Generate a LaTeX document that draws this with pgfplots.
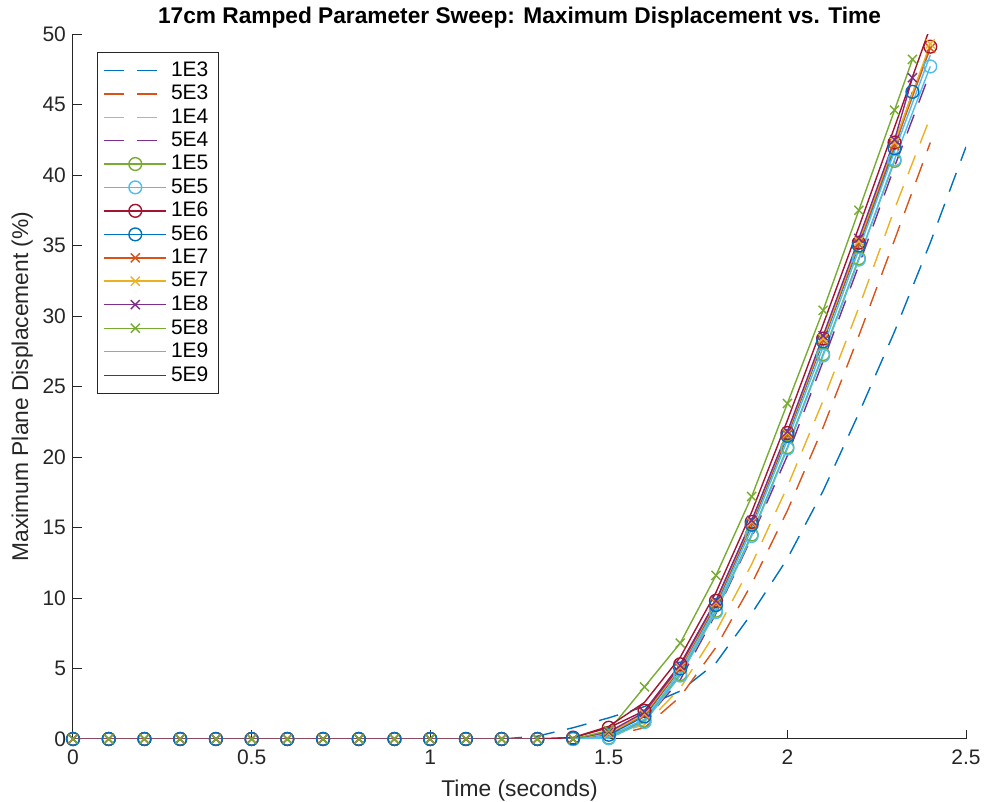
\documentclass[border=0pt]{standalone}
\usepackage{fontspec}
\setmainfont{Liberation Sans}
\usepackage{pgfplots}
\pgfplotsset{compat=1.18}
\definecolor{c1}{rgb}{0,0.447,0.741}
\definecolor{c2}{rgb}{0.850,0.325,0.098}
\definecolor{c3}{rgb}{0.929,0.694,0.125}
\definecolor{c4}{rgb}{0.494,0.184,0.556}
\definecolor{c5}{rgb}{0.466,0.674,0.188}
\definecolor{c6}{rgb}{0.301,0.745,0.933}
\definecolor{c7}{rgb}{0.635,0.078,0.184}
\definecolor{axgray}{rgb}{0.15,0.15,0.15}
\begin{document}
\begin{tikzpicture}
\begin{axis}[
  name=ax,
  width=446.5pt, height=352.5pt, scale only axis,
  xmin=0, xmax=2.5, ymin=0, ymax=50,
  axis x line*=bottom, axis y line*=left,
  axis line style={axgray, line width=0.5pt},
  tick align=inside, major tick length=4.5pt,
  tick style={axgray, line width=0.5pt},
  xtick={0,0.5,1,1.5,2,2.5}, ytick={0,5,10,15,20,25,30,35,40,45,50},
  /pgf/number format/assume math mode=true,
  ticklabel style={font=\fontsize{10.5}{12}\selectfont, text=axgray},
  xticklabel style={yshift=-2pt},
  xlabel={Time (seconds)}, ylabel={Maximum Plane Displacement (\%)},
  label style={font=\fontsize{11.4}{13}\selectfont, text=axgray},
  xlabel style={yshift=-0.5pt},
  ylabel style={yshift=-2pt},
  title={\textbf{17cm Ramped Parameter Sweep: Maximum Displacement vs. Time}},
  title style={font=\fontsize{11.35}{13}\selectfont, yshift=-6.5pt},
  legend cell align=left,
  legend style={at={(0.027,0.9745)}, anchor=north west, draw=axgray, line width=0.5pt,
    font=\fontsize{10.5}{12}\selectfont, row sep=-1.05pt, inner xsep=3pt, inner ysep=2.5pt},
  legend image code/.code={\draw[mark repeat=2,mark phase=2] plot coordinates {(0pt,0pt) (15.5pt,0pt) (31pt,0pt)};},
  every axis plot/.append style={line width=0.7pt},
  mark size=3.2pt,
]
% 1E3
\addplot[c1, dash pattern=on 10pt off 6.5pt] coordinates {(0,0)(0.1,0)(0.2,0)(0.3,0)(0.4,0)(0.5,0)(0.6,0)(0.7,0)(0.8,0)(0.9,0)(1.0,0)(1.1,0)(1.2,0)(1.3,0.2)(1.4,0.8)(1.5,1.5)(1.6,2.3)(1.7,3.4)(1.8,5.4)(1.9,8.9)(2.0,12.8)(2.1,17.6)(2.2,23.1)(2.3,28.9)(2.4,35.2)(2.5,42.0)};
\addlegendentry{1E3}
% 5E3
\addplot[c2, dash pattern=on 10pt off 6.5pt] coordinates {(0,0)(0.1,0)(0.2,0)(0.3,0)(0.4,0)(0.5,0)(0.6,0)(0.7,0)(0.8,0)(0.9,0)(1.0,0)(1.1,0)(1.2,0)(1.3,0)(1.4,0)(1.5,0.2)(1.6,0.8)(1.7,3.0)(1.8,6.5)(1.9,11.0)(2.0,16.2)(2.1,22.1)(2.2,28.6)(2.3,35.4)(2.4,42.3)};
\addlegendentry{5E3}
% 1E4
\addplot[c3, dash pattern=on 10pt off 6.5pt] coordinates {(0,0)(0.1,0)(0.2,0)(0.3,0)(0.4,0)(0.5,0)(0.6,0)(0.7,0)(0.8,0)(0.9,0)(1.0,0)(1.1,0)(1.2,0)(1.3,0)(1.4,0)(1.5,0.3)(1.6,1.0)(1.7,3.6)(1.8,7.6)(1.9,12.4)(2.0,17.9)(2.1,24.0)(2.2,30.6)(2.3,37.6)(2.4,44.1)};
\addlegendentry{1E4}
% 5E4
\addplot[c4, dash pattern=on 10pt off 6.5pt] coordinates {(0,0)(0.1,0)(0.2,0)(0.3,0)(0.4,0)(0.5,0)(0.6,0)(0.7,0)(0.8,0)(0.9,0)(1.0,0)(1.1,0)(1.2,0)(1.3,0)(1.4,0)(1.5,0.3)(1.6,1.3)(1.7,4.2)(1.8,8.9)(1.9,14.3)(2.0,20.1)(2.1,26.8)(2.2,33.6)(2.3,40.6)(2.4,47.3)};
\addlegendentry{5E4}
% 1E5
\addplot[c5, mark=o] coordinates {(0,0)(0.1,0)(0.2,0)(0.3,0)(0.4,0)(0.5,0)(0.6,0)(0.7,0)(0.8,0)(0.9,0)(1.0,0)(1.1,0)(1.2,0)(1.3,0)(1.4,0)(1.5,0.1)(1.6,1.3)(1.7,4.6)(1.8,9.1)(1.9,14.5)(2.0,20.7)(2.1,27.3)(2.2,34.1)(2.3,41.0)};
\addlegendentry{1E5}
% 5E5
\addplot[c6, mark=o] coordinates {(0,0)(0.1,0)(0.2,0)(0.3,0)(0.4,0)(0.5,0)(0.6,0)(0.7,0)(0.8,0)(0.9,0)(1.0,0)(1.1,0)(1.2,0)(1.3,0)(1.4,0)(1.5,0.05)(1.6,1.2)(1.7,4.5)(1.8,9.0)(1.9,14.4)(2.0,20.6)(2.1,27.2)(2.2,34.0)(2.3,41.1)(2.4,47.7)};
\addlegendentry{5E5}
% 1E6
\addplot[c7, mark=o] coordinates {(0,0)(0.1,0)(0.2,0)(0.3,0)(0.4,0)(0.5,0)(0.6,0)(0.7,0)(0.8,0)(0.9,0)(1.0,0)(1.1,0)(1.2,0)(1.3,0)(1.4,0.1)(1.5,0.8)(1.6,2.0)(1.7,5.3)(1.8,9.8)(1.9,15.4)(2.0,21.7)(2.1,28.4)(2.2,35.2)(2.3,42.3)(2.4,49.1)};
\addlegendentry{1E6}
% 5E6
\addplot[c1, mark=o] coordinates {(0,0)(0.1,0)(0.2,0)(0.3,0)(0.4,0)(0.5,0)(0.6,0)(0.7,0)(0.8,0)(0.9,0)(1.0,0)(1.1,0)(1.2,0)(1.3,0)(1.4,0.05)(1.5,0.3)(1.6,1.6)(1.7,5.0)(1.8,9.5)(1.9,15.2)(2.0,21.5)(2.1,28.2)(2.2,35.0)(2.3,41.9)(2.35,45.9)};
\addlegendentry{5E6}
% 1E7
\addplot[c2, mark=x] coordinates {(0,0)(0.1,0)(0.2,0)(0.3,0)(0.4,0)(0.5,0)(0.6,0)(0.7,0)(0.8,0)(0.9,0)(1.0,0)(1.1,0)(1.2,0)(1.3,0)(1.4,0)(1.5,0.4)(1.6,1.7)(1.7,5.0)(1.8,9.6)(1.9,15.3)(2.0,21.6)(2.1,28.3)(2.2,35.1)(2.3,42.1)(2.4,49.0)};
\addlegendentry{1E7}
% 5E7
\addplot[c3, mark=x] coordinates {(0,0)(0.1,0)(0.2,0)(0.3,0)(0.4,0)(0.5,0)(0.6,0)(0.7,0)(0.8,0)(0.9,0)(1.0,0)(1.1,0)(1.2,0)(1.3,0)(1.4,0)(1.5,0.4)(1.6,1.8)(1.7,5.1)(1.8,9.7)(1.9,15.4)(2.0,21.7)(2.1,28.4)(2.2,35.3)(2.3,42.3)(2.4,49.3)};
\addlegendentry{5E7}
% 1E8
\addplot[c4, mark=x] coordinates {(0,0)(0.1,0)(0.2,0)(0.3,0)(0.4,0)(0.5,0)(0.6,0)(0.7,0)(0.8,0)(0.9,0)(1.0,0)(1.1,0)(1.2,0)(1.3,0)(1.4,0)(1.5,0.5)(1.6,1.9)(1.7,5.2)(1.8,9.8)(1.9,15.5)(2.0,21.8)(2.1,28.6)(2.2,35.5)(2.3,42.5)(2.35,46.9)};
\addlegendentry{1E8}
% 5E8
\addplot[c5, mark=x] coordinates {(0,0)(0.1,0)(0.2,0)(0.3,0)(0.4,0)(0.5,0)(0.6,0)(0.7,0)(0.8,0)(0.9,0)(1.0,0)(1.1,0)(1.2,0)(1.3,0)(1.4,0)(1.5,0.6)(1.6,3.7)(1.7,6.8)(1.8,11.6)(1.9,17.2)(2.0,23.8)(2.1,30.4)(2.2,37.5)(2.3,44.6)(2.35,48.2)};
\addlegendentry{5E8}
% 1E9
\addplot[c6] coordinates {(0,0)(0.1,0)(0.2,0)(0.3,0)(0.4,0)(0.5,0)(0.6,0)(0.7,0)(0.8,0)(0.9,0)(1.0,0)(1.1,0)(1.2,0)(1.3,0)(1.4,0)(1.5,0.2)(1.6,1.4)(1.7,4.8)(1.8,9.3)(1.9,14.9)(2.0,21.2)(2.1,27.8)(2.2,34.7)(2.3,41.7)(2.4,48.5)};
\addlegendentry{1E9}
% 5E9
\addplot[c7] coordinates {(0,0)(0.1,0)(0.2,0)(0.3,0)(0.4,0)(0.5,0)(0.6,0)(0.7,0)(0.8,0)(0.9,0)(1.0,0)(1.1,0)(1.2,0)(1.3,0)(1.4,0.1)(1.5,0.9)(1.6,2.6)(1.7,5.8)(1.8,10.4)(1.9,16.1)(2.0,22.6)(2.1,29.4)(2.2,36.3)(2.3,43.4)(2.4,50.5)};
\addlegendentry{5E9}
\end{axis}
\pgfresetboundingbox
\path[use as bounding box] ([shift={(-36.5pt,-31.5pt)}]ax.south west) rectangle ([shift={(9pt,17pt)}]ax.north east);
\end{tikzpicture}
\end{document}
